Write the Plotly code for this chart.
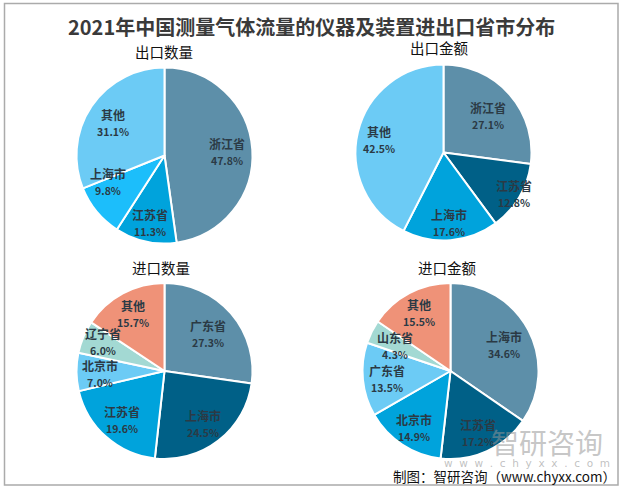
import plotly.graph_objects as go

W, H = 623, 490
TITLE = "2021年中国测量气体流量的仪器及装置进出口省市分布"

exp_qty_labels = ["浙江省", "江苏省", "上海市", "其他"]
exp_qty_values = [47.8, 11.3, 9.8, 31.1]
exp_val_labels = ["浙江省", "江苏省", "上海市", "其他"]
exp_val_values = [27.1, 12.8, 17.6, 42.5]
imp_qty_labels = ["广东省", "上海市", "江苏省", "北京市", "辽宁省", "其他"]
imp_qty_values = [27.3, 24.5, 19.6, 7.0, 6.0, 15.7]
imp_val_labels = ["上海市", "江苏省", "北京市", "广东省", "山东省", "其他"]
imp_val_values = [34.6, 17.2, 14.9, 13.5, 4.3, 15.5]

colors4 = ["#5D8FA9", "#006087", "#00A3DC", "#6CCBF5"]
colors4_q = ["#5D8FA9", "#00A3DC", "#1CBEFB", "#6CCBF5"]
colors6 = ["#5D8FA9", "#006087", "#00A3DC", "#6CCBF5", "#A3D9D3", "#EF9278"]

# text placement (pixels), kept apart from the data
label_pos_1 = [(227, 152), (150, 222), (108, 181), (113, 122)]
label_pos_2 = [(488, 115), (514, 193), (449, 222), (379, 139)]
label_pos_3 = [(208, 333), (203, 423), (122, 419), (100, 373), (103, 341), (133, 313)]
label_pos_4 = [(504, 344), (478, 432), (414, 427), (387, 378), (395, 345), (419, 312)]

panels = [
    ("出口数量", exp_qty_labels, exp_qty_values, colors4_q, 164.5, 155.5, 88, 164, 52, label_pos_1),
    ("出口金额", exp_val_labels, exp_val_values, colors4, 443.5, 152.5, 88, 439, 48, label_pos_2),
    ("进口数量", imp_qty_labels, imp_qty_values, colors6, 164.5, 371, 88, 161, 267, label_pos_3),
    ("进口金额", imp_val_labels, imp_val_values, colors6, 450.5, 371, 88, 447, 267, label_pos_4),
]

fig = go.Figure()
ann = []
sans = "Noto Sans CJK SC, Microsoft YaHei, sans-serif"


def note(text, x, y, **font):
    ann.append(dict(text=text, x=x / W, y=1 - y / H, xref="paper", yref="paper", showarrow=False,
                    xanchor="center", yanchor="middle", align="center", font=font))


for name, labels, values, cols, cx, cy, r, tx, ty, pos in panels:
    fig.add_trace(go.Pie(
        labels=labels, values=values, sort=False, direction="clockwise", rotation=0,
        marker=dict(colors=cols, line=dict(color="white", width=2)),
        textinfo="none", hoverinfo="label+percent", showlegend=False,
        domain=dict(x=[(cx - r) / W, (cx + r) / W], y=[1 - (cy + r) / H, 1 - (cy - r) / H]),
    ))
    note(name, tx, ty, family=sans, size=14.5, color="#111111")
    for lab, v, (lx, ly) in zip(labels, values, pos):
        note(f"<b>{lab}</b><br><b><span style='font-size:10.5px'>{v:.1f}%</span></b>", lx, ly,
             family=sans, size=12, color="#2B3A45")

note(f"<b>{TITLE}</b>", 311, 27, family="Noto Sans CJK SC, serif", size=20, color="#3A3A3A")
note("智研咨询", 547, 442, family=sans, size=28, color="rgba(150,150,150,0.55)")
note("w\u00a0\u00a0w\u00a0\u00a0w\u00a0\u00a0.\u00a0\u00a0c\u00a0\u00a0h\u00a0\u00a0y\u00a0\u00a0x\u00a0\u00a0x\u00a0\u00a0.\u00a0\u00a0c\u00a0\u00a0o\u00a0\u00a0m",
     527, 463, family="DejaVu Sans", size=10.5, color="rgba(150,150,150,0.6)")
note("制图：智研咨询（www.chyxx.com）", 504, 476, family=sans, size=13.5, color="#111111")

fig.update_layout(
    width=W, height=H, margin=dict(l=0, r=0, t=0, b=0), paper_bgcolor="white",
    annotations=ann,
    shapes=[dict(type="rect", xref="paper", yref="paper", x0=4.5 / W, x1=618 / W, y0=1 - 485 / H, y1=1 - 3.5 / H,
                 line=dict(color="#ABABAB", width=1.5), fillcolor="rgba(0,0,0,0)")],
)
fig.write_html("out.html", config={"displayModeBar": False}, post_script="document.body.style.margin='0';")
